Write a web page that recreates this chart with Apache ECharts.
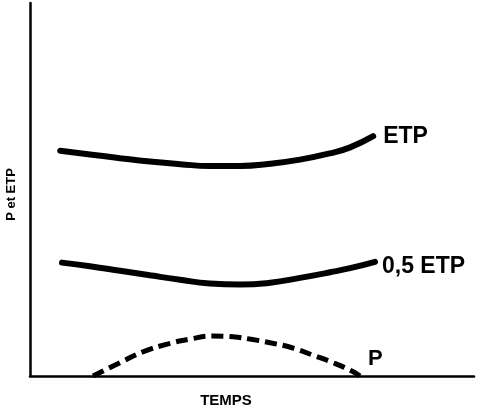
<!DOCTYPE html>
<html>
<head>
<meta charset="utf-8">
<script src="https://cdn.jsdelivr.net/npm/echarts@6/dist/echarts.min.js"></script>
<style>html,body{margin:0;padding:0;background:#fff}#c{width:479px;height:409px}</style>
</head>
<body>
<div id="c"></div>
<script>
// Time (arbitrary units 0-100)
const etpTime = [6.8, 13.5, 20.3, 27.0, 33.8, 40.5, 47.3, 54.1, 60.8, 67.6, 72.1, 77.3];
const etpValues = [60.4, 59.4, 58.4, 57.5, 56.8, 56.3, 56.3, 56.9, 58.0, 59.7, 61.3, 64.3];
const halfEtpTime = [7.2, 13.5, 20.3, 27.0, 33.8, 40.5, 47.3, 54.1, 60.8, 67.6, 72.1, 77.7];
const halfEtpValues = [30.4, 29.4, 28.2, 27.0, 25.8, 24.8, 24.5, 25.0, 26.3, 27.8, 28.9, 30.6];
const pTime = [14.2, 20.3, 25.5, 31.1, 36.0, 41.0, 45.7, 49.5, 54.1, 59.2, 63.7, 68.2, 72.7, 74.3];
const pValues = [0, 3.6, 6.5, 8.6, 9.9, 10.7, 10.5, 9.9, 8.9, 7.5, 5.6, 3.6, 1.2, 0];
const seriesNames = ['ETP', '0,5 ETP', 'P'];
const xName = 'TEMPS';
const yName = 'P et ETP';

const zip = (a, b) => a.map((v, i) => [v, b[i]]);
const font = 'Liberation Sans, Arial, sans-serif';

const chart = echarts.init(document.getElementById('c'));
chart.setOption({
  animation: false,
  backgroundColor: '#fff',
  grid: { left: 30, right: 5, top: 3, bottom: 33, containLabel: false, outerBoundsMode: 'none' },
  xAxis: {
    type: 'value', min: 0, max: 100,
    name: xName, nameLocation: 'middle', nameGap: 17,
    nameTextStyle: { fontFamily: font, fontWeight: 'bold', fontSize: 15, color: '#000', padding: [0, 52, 0, 0] },
    axisLine: { show: true, onZero: false, lineStyle: { color: '#000', width: 2.5 } },
    axisTick: { show: false }, axisLabel: { show: false }, splitLine: { show: false }
  },
  yAxis: {
    type: 'value', min: 0, max: 100,
    name: yName, nameLocation: 'middle', nameGap: 12, nameRotate: 90,
    nameTextStyle: { fontFamily: font, fontWeight: 'bold', fontSize: 13, color: '#000', padding: [0, 10, 0, 0] },
    axisLine: { show: true, onZero: false, lineStyle: { color: '#000', width: 2.5 } },
    axisTick: { show: false }, axisLabel: { show: false }, splitLine: { show: false }
  },
  series: [
    {
      name: seriesNames[0], type: 'line', smooth: 0.5, showSymbol: false,
      data: zip(etpTime, etpValues),
      lineStyle: { color: '#000', width: 6, cap: 'round' },
      endLabel: { show: true, formatter: seriesNames[0], distance: 10, offset: [0, 0],
        fontFamily: font, fontWeight: 'bold', fontSize: 23, color: '#000' }
    },
    {
      name: seriesNames[1], type: 'line', smooth: 0.5, showSymbol: false,
      data: zip(halfEtpTime, halfEtpValues),
      lineStyle: { color: '#000', width: 6, cap: 'round' },
      endLabel: { show: true, formatter: seriesNames[1], distance: 7, offset: [0, 5],
        fontFamily: font, fontWeight: 'bold', fontSize: 23, color: '#000' }
    },
    {
      name: seriesNames[2], type: 'line', smooth: 0.5, showSymbol: false,
      data: zip(pTime, pValues),
      lineStyle: { color: '#000', width: 5, type: [12, 6], cap: 'butt' },
      endLabel: { show: true, formatter: seriesNames[2], distance: 8, offset: [0, -17],
        fontFamily: font, fontWeight: 'bold', fontSize: 22, color: '#000' }
    }
  ]
});
</script>
</body>
</html>
